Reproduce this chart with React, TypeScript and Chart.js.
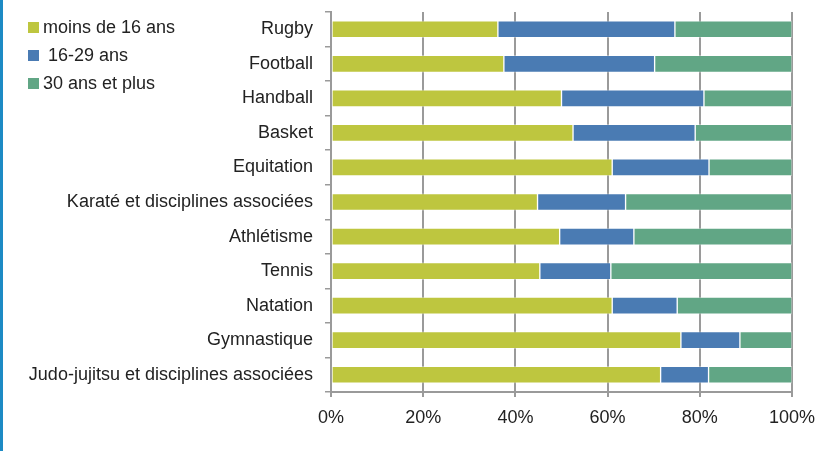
import React, { useEffect, useRef } from 'react';
import { Chart, registerables } from 'chart.js';

Chart.register(...registerables);

const categories = [
  'Rugby',
  'Football',
  'Handball',
  'Basket',
  'Equitation',
  'Karaté et disciplines associées',
  'Athlétisme',
  'Tennis',
  'Natation',
  'Gymnastique',
  'Judo-jujitsu et disciplines associées',
];

const under16 = [36.2, 37.5, 50.0, 52.5, 61.0, 44.8, 49.6, 45.3, 61.0, 75.9, 71.5];
const age16to29 = [38.4, 32.7, 30.9, 26.5, 21.0, 19.1, 16.1, 15.4, 14.1, 12.8, 10.4];
const over30 = [25.4, 29.8, 19.1, 21.0, 18.0, 36.1, 34.3, 39.3, 24.9, 11.3, 18.1];

const seriesLabels = ['moins de 16 ans', ' 16-29 ans', '30 ans et plus'];
const seriesColors = ['#BEC63F', '#4A7BB3', '#61A685'];
const xTickLabels = ['0%', '20%', '40%', '60%', '80%', '100%'];

const FONT = '"Liberation Sans", Arial, Helvetica, sans-serif';
const TEXT = '#222222';
const GRID = '#9a9a9a';

export default function App() {
  const canvasRef = useRef<HTMLCanvasElement | null>(null);

  useEffect(() => {
    const canvas = canvasRef.current;
    if (!canvas) return;
    const seriesData = [under16, age16to29, over30];
    const chart = new Chart(canvas, {
      type: 'bar',
      data: {
        labels: categories,
        datasets: seriesData.map((d, i) => ({
          label: seriesLabels[i],
          data: d,
          backgroundColor: seriesColors[i],
          borderColor: 'rgba(255,255,255,0.35)',
          borderWidth: 1,
          borderSkipped: false,
          barThickness: 17,
        })),
      },
      options: {
        indexAxis: 'y',
        animation: false,
        responsive: false,
        maintainAspectRatio: false,
        layout: { padding: { left: 0, right: 34, top: 12, bottom: 0 } },
        plugins: {
          legend: { display: false },
          tooltip: { enabled: false },
        },
        scales: {
          x: {
            stacked: true,
            min: 0,
            max: 100,
            ticks: {
              stepSize: 20,
              padding: 10,
              color: TEXT,
              font: { family: FONT, size: 18 },
              callback: (_v: any, i: number) => xTickLabels[i],
            },
            grid: {
              color: GRID,
              lineWidth: 2,
              tickLength: 5,
              drawTicks: true,
            },
            border: { display: true, color: GRID, width: 2 },
            afterFit: (scale: any) => {
              scale.height = 59;
              scale.paddingLeft = 0;
              scale.paddingRight = 0;
            },
          },
          y: {
            stacked: true,
            ticks: {
              padding: 12,
              color: TEXT,
              font: { family: FONT, size: 18 },
            },
            grid: {
              offset: true,
              drawOnChartArea: false,
              drawTicks: true,
              tickLength: 6,
              color: GRID,
              lineWidth: 1.5,
            },
            border: { display: true, color: GRID, width: 2 },
            afterFit: (scale: any) => {
              scale.width = 331;
              scale.paddingTop = 0;
              scale.paddingBottom = 0;
            },
          },
        },
      },
    });
    return () => chart.destroy();
  }, []);

  return (
    <div
      style={{
        position: 'fixed',
        left: 0,
        top: 0,
        width: 826,
        height: 451,
        background: '#ffffff',
        overflow: 'hidden',
      }}
    >
      <canvas
        ref={canvasRef}
        width={826}
        height={451}
        style={{ position: 'absolute', left: 0, top: 0, width: 826, height: 451 }}
      />
      <div
        style={{
          position: 'absolute',
          left: 0,
          top: 0,
          width: 3,
          height: 451,
          background: '#1c8ac4',
        }}
      />
      <div style={{ position: 'absolute', left: 28, top: 14, fontFamily: FONT, fontSize: 18, color: TEXT }}>
        {seriesLabels.map((lab, i) => (
          <div
            key={i}
            style={{ display: 'flex', alignItems: 'center', height: 27.7, whiteSpace: 'pre' }}
          >
            <span
              style={{
                display: 'inline-block',
                width: 11,
                height: 11,
                background: seriesColors[i],
                marginRight: 4,
              }}
            />
            <span>{lab}</span>
          </div>
        ))}
      </div>
    </div>
  );
}
